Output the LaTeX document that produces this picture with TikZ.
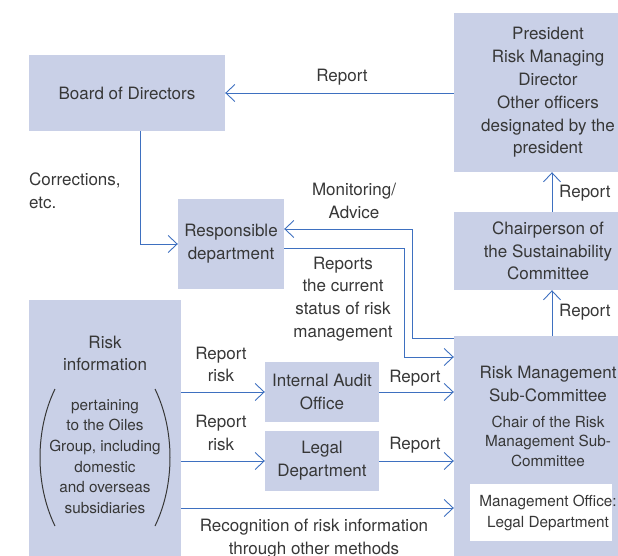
\documentclass[tikz,border=0pt]{standalone}
\usepackage{fontspec}
\setmainfont{TeX Gyre Heros}
\usetikzlibrary{arrows.meta}

\definecolor{boxfill}{RGB}{201,208,231}
\definecolor{linkblue}{RGB}{62,112,192}
\definecolor{txtgray}{RGB}{55,55,55}
\newcommand{\diagfont}{\fontsize{17}{22.8}\selectfont}
\newcommand{\diagsmall}{\fontsize{15.3}{19.5}\selectfont}

\begin{document}
\begin{tikzpicture}[x=1pt, y=-1pt,
  box/.style={fill=boxfill, inner sep=0pt, align=center, text=txtgray, font=\diagfont},
  note/.style={align=center, text=txtgray, font=\diagfont, inner sep=0pt},
  small/.style={align=center, text=txtgray, font=\diagsmall, inner sep=0pt},
  arr/.style={draw=linkblue, line width=0.9pt, -{Straight Barb[length=9pt,width=17pt]}},
  paren/.style={draw=txtgray, line width=1pt}]

\useasboundingbox (0,0) rectangle (618,556);
\clip (0,0) rectangle (618,556);

\node[box, minimum width=196pt, minimum height=76pt] (board) at (127,93) {Board of Directors};
\node[box, minimum width=188pt, minimum height=159pt] (pres) at (548,92.5) {President\\Risk Managing\\Director\\Other officers\\designated by the\\president};
\node[box, minimum width=188pt, minimum height=78pt] (chair) at (548,251) {Chairperson of\\the Sustainability\\Committee};
\node[box, minimum width=188pt, minimum height=220pt] (rms) at (548,446) {};
\node[box, minimum width=106pt, minimum height=90pt] (resp) at (231,244) {Responsible\\department};
\node[box, minimum width=152pt, minimum height=256pt] (risk) at (105,428) {};
\node[box, minimum width=114pt, minimum height=60pt] (audit) at (322,392) {Internal Audit\\Office};
\node[box, minimum width=114pt, minimum height=60pt] (legal) at (322,461) {Legal\\Department};
\node[fill=white, minimum width=142pt, minimum height=57pt, inner sep=0pt] (office) at (541,512.5) {};

% texts inside the big boxes
\node[note] (rmsname) at (548,384) {Risk Management\\Sub-Committee};
\node[small] (rmschair) at (548,441) {Chair of the Risk\\Management Sub-\\Committee};
\node[small, font=\fontsize{15.3}{21}\selectfont] (officename) at (548,512.5) {Management Office:\\Legal Department};
\node[note] (riskname) at (105,353.5) {Risk\\information};
\node[small, font=\fontsize{15.3}{20.6}\selectfont] (riskscope) at (105,456.5) {pertaining\\to the Oiles\\Group, including\\domestic\\and overseas\\subsidiaries};
\draw[paren] (55,389) .. controls (35,430) and (35,485) .. (55,526);
\draw[paren] (155,389) .. controls (175,430) and (175,485) .. (155,526);

% connectors
\coordinate (monturn) at (412,229);
\coordinate (statturn) at (404,357);
\coordinate (recog) at (0,508);
\draw[arr] (pres.west |- board.east) -- (board.east);
\draw[arr] ([xshift=13pt]board.south) |- (resp.west);
\draw[arr] ([yshift=-3pt]rms.north west) -| (monturn) -- (monturn -| resp.east);
\draw[arr] ([yshift=-4pt]resp.east) -| (statturn) -- (statturn -| rms.west);
\draw[arr] ([xshift=4pt]chair.north) -- ([xshift=4pt]pres.south);
\draw[arr] ([xshift=4pt]rms.north) -- ([xshift=4pt]chair.south);
\draw[arr] (risk.east |- audit.west) -- (audit.west);
\draw[arr] (risk.east |- legal.west) -- (legal.west);
\draw[arr] (audit.east) -- (audit.east -| rms.west);
\draw[arr] (legal.east) -- (legal.east -| rms.west);
\draw[arr] (risk.east |- recog) -- (recog -| rms.west);

% labels
\node[note] (rep1) at (342,77) {Report};
\node[note, anchor=west, align=left] (corr) at (29,190.5) {Corrections,\\etc.};
\node[note] (mon) at (354,201) {Monitoring/\\Advice};
\node[note] (stat) at (343,299) {Reports\\the current\\status of risk\\management};
\node[note, anchor=west] (rep2) at (559,193) {Report};
\node[note, anchor=west] (rep3) at (559,312) {Report};
\node[note] (rr1) at (221,364.5) {Report\\risk};
\node[note] (rr2) at (221,433) {Report\\risk};
\node[note] (rep4) at (415,378) {Report};
\node[note] (rep5) at (415,445) {Report};
\node[note] (recogtext) at (314,538.5) {Recognition of risk information\\through other methods};

\end{tikzpicture}
\end{document}
